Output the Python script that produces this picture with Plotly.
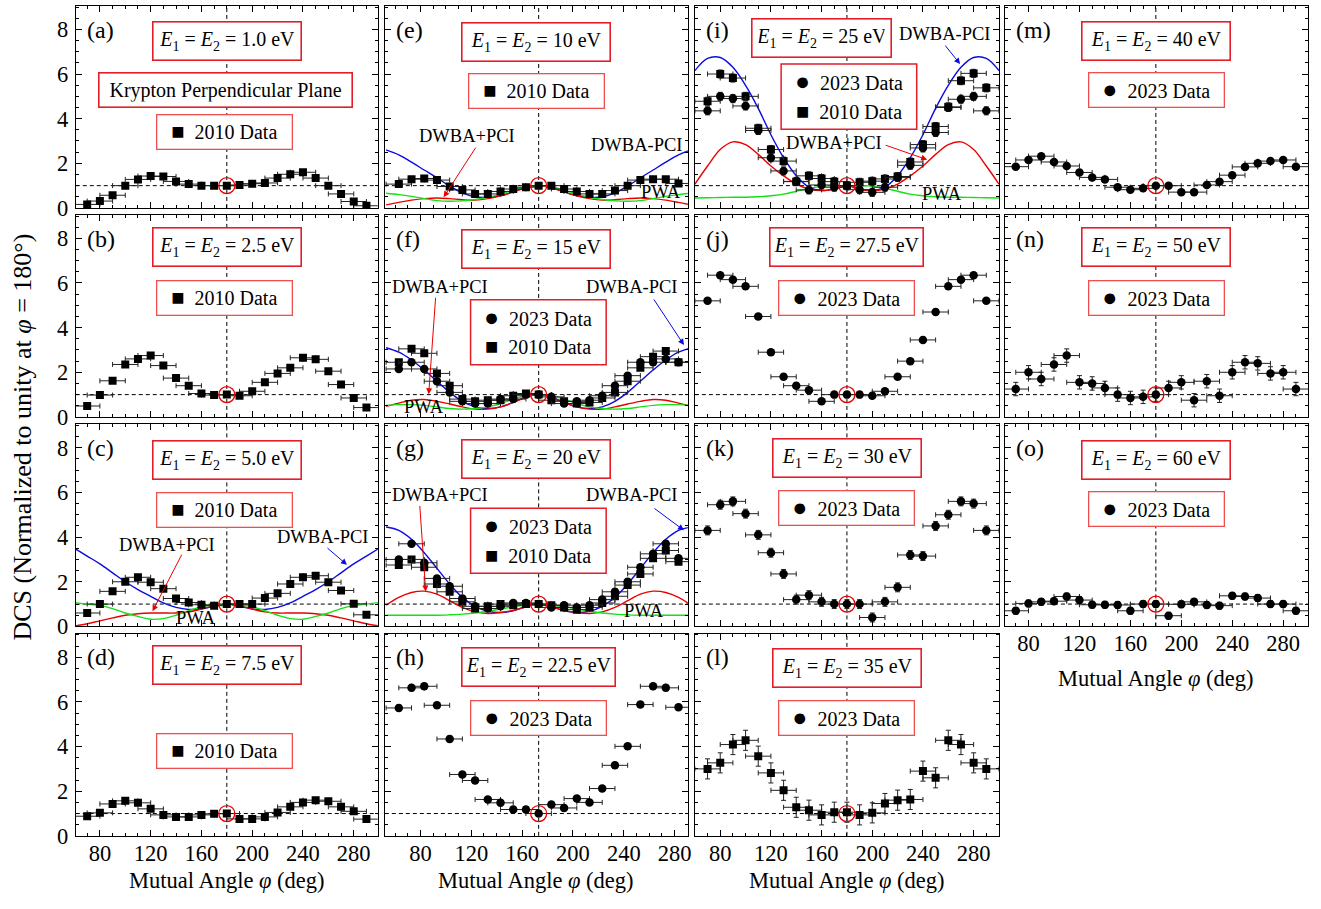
import plotly.graph_objects as go

# ---------------- data ----------------
PHI = [70, 80, 90, 100, 110, 120, 130, 140, 150, 160, 170, 180, 190, 200, 210, 220, 230, 240, 250, 260, 270, 280, 290]
PHI_B = [63, 73, 83, 93, 103, 113, 123, 133, 143, 153, 163, 173, 183, 193, 203, 213, 223, 233, 243, 253, 263, 273, 283]
TH = [60, 70, 80, 90, 100, 110, 120, 130, 140, 150, 160, 170, 180, 190, 200, 210, 220, 230, 240, 250, 260, 270, 280, 290, 300]
TH_B = [53, 63, 73, 83, 93, 103, 113, 123, 133, 143, 153, 163, 173, 183, 193, 203, 213, 223, 233, 243, 253, 263, 273, 283, 293]
XTICKS = [80, 120, 160, 200, 240, 280]
YTICKS = [0, 2, 4, 6, 8]

A_2010 = [0.16, 0.31, 0.57, 1.0, 1.28, 1.43, 1.41, 1.19, 1.07, 1.0, 1.0, 1.0, 1.03, 1.09, 1.12, 1.34, 1.51, 1.6, 1.34, 1.0, 0.63, 0.29, 0.1]
B_2010 = [0.49, 0.98, 1.62, 2.35, 2.6, 2.75, 2.3, 1.74, 1.4, 1.05, 0.98, 1.0, 0.95, 1.15, 1.55, 1.95, 2.2, 2.65, 2.58, 2.05, 1.45, 0.85, 0.42]
C_2010 = [0.6, 1.0, 1.57, 2.0, 2.2, 1.98, 1.69, 1.25, 1.07, 0.97, 0.93, 1.0, 1.0, 1.0, 1.27, 1.48, 1.9, 2.2, 2.27, 1.98, 1.61, 1.01, 0.52]
D_2010 = [0.88, 1.03, 1.43, 1.57, 1.48, 1.21, 0.94, 0.85, 0.85, 0.94, 0.99, 1.0, 0.76, 0.76, 0.85, 1.05, 1.3, 1.5, 1.6, 1.55, 1.3, 1.1, 0.75]
E_2010 = [1.07, 1.29, 1.32, 1.25, 0.96, 0.81, 0.63, 0.63, 0.74, 0.85, 0.93, 1.0, 1.0, 0.85, 0.74, 0.63, 0.63, 0.78, 1.0, 1.25, 1.29, 1.29, 1.1]
F_2010 = [2.45, 3.05, 2.85, 1.95, 1.4, 0.8, 0.7, 0.75, 0.75, 0.95, 1.05, 1.0, 0.75, 0.7, 0.6, 0.65, 0.85, 1.1, 1.6, 2.2, 2.7, 2.95, 2.45]
F_2023 = [2.15, 2.45, 2.15, 1.6, 1.1, 0.7, 0.6, 0.6, 0.8, 0.8, 1.0, 1.0, 0.9, 0.6, 0.7, 0.75, 0.95, 1.4, 1.85, 2.45, 2.45, 2.6, 2.45]
G_2010 = [2.75, 3.0, 2.65, 1.9, 1.55, 1.1, 0.8, 0.9, 1.0, 0.95, 1.0, 1.0, 0.95, 0.85, 0.75, 0.85, 1.05, 1.35, 1.85, 2.35, 3.05, 3.4, 2.9]
G_2023 = [3.0, 3.7, 2.85, 2.15, 1.8, 1.25, 0.9, 0.8, 0.9, 1.05, 1.05, 1.0, 0.85, 0.95, 0.85, 0.95, 1.2, 1.55, 2.0, 2.65, 3.25, 3.7, 3.05]
H_2023 = [5.73, 6.63, 6.7, 5.85, 4.34, 2.75, 2.48, 1.63, 1.48, 1.18, 1.18, 1.0, 1.4, 1.25, 1.67, 1.5, 2.12, 3.16, 4.01, 5.88, 6.7, 6.63, 5.76]
I_2010 = [4.78, 6.0, 5.82, 5.0, 3.57, 2.62, 2.1, 1.18, 1.44, 1.32, 1.18, 1.0, 1.15, 1.2, 1.3, 1.41, 2.06, 2.84, 3.65, 4.53, 5.7, 6.03, 5.38]
I_2023 = [4.35, 5.0, 4.9, 4.57, 3.47, 2.25, 1.66, 1.19, 0.81, 1.03, 0.93, 1.0, 0.82, 0.7, 0.93, 1.37, 1.91, 2.69, 3.38, 4.5, 4.87, 5.0, 4.35]
J_2023 = [5.2, 6.35, 6.15, 5.85, 4.5, 2.9, 1.8, 1.4, 1.2, 0.7, 1.0, 1.0, 1.0, 0.95, 1.15, 1.8, 2.5, 3.45, 4.7, 5.85, 6.15, 6.35, 5.2]
K_2023 = [4.3, 5.45, 5.6, 5.05, 4.1, 3.3, 2.35, 1.2, 1.4, 1.1, 1.0, 1.0, 1.0, 0.4, 1.1, 1.75, 3.2, 3.15, 4.5, 5.0, 5.6, 5.5, 4.3]
L_2023 = [3.0, 3.27, 4.09, 4.28, 3.57, 2.82, 2.04, 1.28, 1.15, 0.94, 1.06, 1.06, 0.94, 1.03, 1.45, 1.6, 1.63, 2.9, 2.6, 4.28, 4.09, 3.27, 3.0]
M_2023 = [1.85, 2.15, 2.32, 2.06, 1.88, 1.59, 1.37, 1.28, 0.93, 0.82, 0.88, 1.0, 1.0, 0.71, 0.71, 1.03, 1.18, 1.47, 1.84, 2.0, 2.1, 2.15, 1.85]
N_2023 = [1.25, 2.0, 1.7, 2.35, 2.75, 1.55, 1.5, 1.3, 1.0, 0.85, 0.9, 1.0, 1.3, 1.55, 0.75, 1.6, 0.95, 2.0, 2.45, 2.4, 1.95, 2.0, 1.25]
O_2023 = [0.7, 1.03, 1.1, 1.13, 1.34, 1.18, 0.97, 0.97, 0.96, 0.7, 1.0, 1.0, 0.48, 0.99, 1.1, 0.96, 0.93, 1.37, 1.34, 1.27, 1.0, 1.0, 0.7]

# theory curves (DWBA-PCI blue, DWBA+PCI red, PWA green)
C_BLUE = [3.5, 3.15, 2.8, 2.4, 2.0, 1.65, 1.35, 1.05, 0.85, 0.76, 0.78, 0.9, 1.0, 0.9, 0.78, 0.76, 0.85, 1.05, 1.35, 1.65, 2.0, 2.4, 2.8, 3.15, 3.5]
C_RED = [0.02, 0.12, 0.25, 0.38, 0.5, 0.57, 0.6, 0.6, 0.6, 0.65, 0.78, 0.93, 1.0, 0.93, 0.78, 0.65, 0.6, 0.6, 0.6, 0.57, 0.5, 0.38, 0.25, 0.12, 0.02]
C_GREEN = [1.07, 1.0, 0.93, 0.8, 0.6, 0.45, 0.32, 0.35, 0.5, 0.7, 0.88, 0.97, 1.0, 0.97, 0.88, 0.7, 0.5, 0.35, 0.32, 0.45, 0.6, 0.8, 0.93, 1.0, 1.07]
E_BLUE = [2.6, 2.38, 2.05, 1.7, 1.35, 0.98, 0.68, 0.5, 0.48, 0.55, 0.72, 0.93, 1.0, 0.93, 0.72, 0.55, 0.48, 0.5, 0.68, 0.98, 1.35, 1.7, 2.05, 2.38, 2.6]
E_RED = [0.14, 0.25, 0.35, 0.42, 0.45, 0.42, 0.37, 0.35, 0.42, 0.55, 0.72, 0.9, 1.0, 0.9, 0.72, 0.55, 0.42, 0.35, 0.37, 0.42, 0.45, 0.42, 0.35, 0.25, 0.14]
E_GREEN = [0.66, 0.6, 0.52, 0.42, 0.33, 0.3, 0.32, 0.38, 0.48, 0.62, 0.8, 0.95, 1.0, 0.95, 0.8, 0.62, 0.48, 0.38, 0.32, 0.3, 0.33, 0.42, 0.52, 0.6, 0.66]
F_BLUE = [3.1, 2.9, 2.55, 2.1, 1.6, 1.1, 0.7, 0.45, 0.38, 0.45, 0.65, 0.9, 1.0, 0.9, 0.65, 0.45, 0.38, 0.45, 0.7, 1.1, 1.6, 2.1, 2.55, 2.9, 3.1]
F_RED = [0.48, 0.62, 0.75, 0.78, 0.7, 0.58, 0.45, 0.35, 0.35, 0.45, 0.65, 0.88, 1.0, 0.88, 0.65, 0.45, 0.35, 0.35, 0.45, 0.58, 0.7, 0.78, 0.75, 0.62, 0.48]
F_GREEN = [0.52, 0.55, 0.55, 0.52, 0.45, 0.38, 0.35, 0.38, 0.45, 0.6, 0.8, 0.95, 1.0, 0.95, 0.8, 0.6, 0.45, 0.38, 0.35, 0.38, 0.45, 0.52, 0.55, 0.55, 0.52]
G_BLUE = [4.45, 4.3, 3.9, 3.3, 2.6, 1.9, 1.3, 0.9, 0.68, 0.62, 0.7, 0.88, 1.0, 0.88, 0.7, 0.62, 0.68, 0.9, 1.3, 1.9, 2.6, 3.3, 3.9, 4.3, 4.45]
G_RED = [0.95, 1.3, 1.52, 1.58, 1.45, 1.15, 0.85, 0.65, 0.58, 0.62, 0.72, 0.88, 1.0, 0.88, 0.72, 0.62, 0.58, 0.65, 0.85, 1.15, 1.45, 1.58, 1.52, 1.3, 0.95]
G_GREEN = [0.5, 0.5, 0.5, 0.5, 0.5, 0.52, 0.55, 0.6, 0.68, 0.78, 0.88, 0.96, 1.0, 0.96, 0.88, 0.78, 0.68, 0.6, 0.55, 0.52, 0.5, 0.5, 0.5, 0.5, 0.5]
I_BLUE = [6.15, 6.7, 6.74, 6.3, 5.49, 4.46, 3.28, 2.25, 1.44, 0.93, 0.78, 0.85, 1.0, 0.85, 0.78, 0.93, 1.44, 2.25, 3.28, 4.46, 5.49, 6.3, 6.74, 6.7, 6.15]
I_RED = [1.07, 1.88, 2.62, 2.96, 2.84, 2.4, 1.88, 1.44, 1.07, 0.85, 0.78, 0.85, 1.0, 0.85, 0.78, 0.85, 1.07, 1.44, 1.88, 2.4, 2.84, 2.96, 2.62, 1.88, 1.07]
I_GREEN = [0.45, 0.46, 0.47, 0.48, 0.48, 0.5, 0.55, 0.62, 0.75, 0.88, 0.97, 1.0, 1.0, 1.0, 0.97, 0.88, 0.75, 0.62, 0.55, 0.5, 0.48, 0.48, 0.47, 0.46, 0.45]

ENERGIES = ['1.0', '2.5', '5.0', '7.5', '10', '15', '20', '22.5', '25', '27.5', '30', '35', '40', '50', '60']
LABELS = ['a', 'b', 'c', 'd', 'e', 'f', 'g', 'h', 'i', 'j', 'k', 'l', 'm', 'n', 'o']
YERR = [0.08, 0.1, 0.08, 0.08, 0.08, 0.12, 0.12, 0.13, 0.18, 0.12, 0.2, 0.45, 0.08, 0.3, 0.15]
XERR = 10

# ---------------- layout geometry ----------------
W, H = 1321, 909
FONT = 'Liberation Serif'
COL_PX = [(76, 379), (386, 690), (697, 1002), (1008, 1312)]
ROW_PX = [(6, 211), (218, 423), (430.5, 635.5), (643, 848)]
XR = [[61, 299], [52, 290.4], [60, 300], [61.5, 299.5]]
CENTER = [180, 173, 180, 180]
YR = [0.0, 9.05]

BLUE = 'rgb(10,10,225)'
RED = 'rgb(235,0,0)'
GREEN = 'rgb(20,225,20)'
BOXRED = 'rgb(228,30,40)'
BOXRED2 = 'rgb(238,80,80)'
SQ_GLYPH = '<span style="font-size:22px">■</span>'
CI_GLYPH = '<span style="font-size:25px">●</span>'

PANELS = [
    dict(col=0, row=0, ser=[(A_2010, 'square')], th=None, leg='sq', eb=(0, 36), lb=(-2, 128)),
    dict(col=0, row=1, ser=[(B_2010, 'square')], th=None, leg='sq', eb=(0, 33), lb=(-2, 84)),
    dict(col=0, row=2, ser=[(C_2010, 'square')], th=(C_BLUE, C_RED, C_GREEN), leg='sq', eb=(0, 36), lb=(-2, 87)),
    dict(col=0, row=3, ser=[(D_2010, 'square')], th=None, leg='sq', eb=(0, 32), lb=(-2, 119)),
    dict(col=1, row=0, ser=[(E_2010, 'square')], th=(E_BLUE, E_RED, E_GREEN), leg='sq', eb=(0, 37), lb=(0, 86)),
    dict(col=1, row=1, ser=[(F_2010, 'square'), (F_2023, 'circle')], th=(F_BLUE, F_RED, F_GREEN), leg='both', eb=(0, 35), lb=(2, 119)),
    dict(col=1, row=2, ser=[(G_2010, 'square'), (G_2023, 'circle')], th=(G_BLUE, G_RED, G_GREEN), leg='both', eb=(0, 35), lb=(2, 118)),
    dict(col=1, row=3, ser=[(H_2023, 'circle')], th=None, leg='ci', eb=(2, 34), lb=(2, 85)),
    dict(col=2, row=0, ser=[(I_2010, 'square'), (I_2023, 'circle')], th=(I_BLUE, I_RED, I_GREEN), leg='both', eb=(-26, 33), lb=(2, 92)),
    dict(col=2, row=1, ser=[(J_2023, 'circle')], th=None, leg='ci', eb=(0, 33), lb=(0, 84)),
    dict(col=2, row=2, ser=[(K_2023, 'circle')], th=None, leg='ci', eb=(0, 34), lb=(0, 85)),
    dict(col=2, row=3, ser=[(L_2023, 'square')], th=None, leg='ci', eb=(0, 35), lb=(0, 85)),
    dict(col=3, row=0, ser=[(M_2023, 'circle')], th=None, leg='ci', eb=(0, 36), lb=(0, 85)),
    dict(col=3, row=1, ser=[(N_2023, 'circle')], th=None, leg='ci', eb=(0, 33), lb=(0, 84)),
    dict(col=3, row=2, ser=[(O_2023, 'circle')], th=None, leg='ci', eb=(0, 36), lb=(0, 86)),
]

TH_LABELS = {
    'c': dict(plus=(168, 553), minus=(323, 545), pwa=(197, 627),
              red_arrow=((183, 562), (153, 620)), blue_arrow=((327, 555), (348, 573))),
    'e': dict(plus=(468, 138), minus=(638, 147), pwa=(663, 195),
              red_arrow=((478, 149), (445, 200)), blue_arrow=None),
    'f': dict(plus=(441, 291), minus=(633, 291), pwa=(425, 413),
              red_arrow=((437, 302), (430, 400)), blue_arrow=((655, 303), (686, 350))),
    'g': dict(plus=(441, 502), minus=(633, 502), pwa=(646, 620),
              red_arrow=((421, 513), (427, 600)), blue_arrow=((655, 515), (686, 538))),
    'i': dict(plus=(837, 145), minus=(947, 35), pwa=(945, 197),
              red_arrow=((887, 147), (930, 162)), blue_arrow=((947, 45), (963, 65))),
}


def PX(x):
    return x / W


def PY(y):
    return 1 - y / H


fig = go.Figure()
layout = dict(width=W, height=H, margin=dict(l=0, r=0, t=0, b=0, pad=0),
              paper_bgcolor='white', plot_bgcolor='white', showlegend=False,
              font=dict(family=FONT, color='black'))
annotations = []
shapes = []

for k, p in enumerate(PANELS, start=1):
    c, r = p['col'], p['row']
    sfx = '' if k == 1 else str(k)
    xref, yref = 'x' + sfx, 'y' + sfx
    x0, x1 = COL_PX[c]
    y0, y1 = ROW_PX[r]
    show_xl = (r == 3) or (c == 3 and r == 2)
    show_yl = (c == 0)
    layout['xaxis' + sfx] = dict(
        domain=[PX(x0), PX(x1)], range=XR[c], anchor=yref, tickvals=XTICKS,
        ticks='inside', ticklen=6, tickwidth=1, tickcolor='black',
        minor=dict(dtick=10, tick0=0, ticks='inside', ticklen=3, tickcolor='black', tickwidth=1),
        showline=True, linecolor='black', linewidth=1, mirror='allticks',
        showgrid=False, zeroline=False, showticklabels=show_xl, ticklabelstandoff=-3,
        tickfont=dict(family=FONT, size=22.5, color='black'))
    layout['yaxis' + sfx] = dict(
        domain=[PY(y1), PY(y0)], range=YR, anchor=xref, tickvals=YTICKS,
        ticks='inside', ticklen=6, tickwidth=1, tickcolor='black',
        minor=dict(dtick=0.5, tick0=0, ticks='inside', ticklen=3, tickcolor='black', tickwidth=1),
        showline=True, linecolor='black', linewidth=1, mirror='allticks',
        showgrid=False, zeroline=False, showticklabels=show_yl, ticklabelstandoff=2,
        tickfont=dict(family=FONT, size=22.5, color='black'))

    xd = PHI_B if c == 1 else PHI
    xt = TH_B if c == 1 else TH
    cen = CENTER[c]

    shapes.append(dict(type='line', xref=xref, yref=yref + ' domain', x0=cen, x1=cen, y0=0, y1=1,
                       line=dict(color='black', width=1, dash='4px,3px'), layer='below'))
    shapes.append(dict(type='line', xref=xref + ' domain', yref=yref, x0=0, x1=1, y0=1, y1=1,
                       line=dict(color='black', width=1, dash='4px,3px'), layer='below'))

    if p['th'] is not None:
        for vals, col in zip(p['th'], (BLUE, RED, GREEN)):
            fig.add_trace(go.Scatter(x=xt, y=vals, mode='lines', xaxis=xref, yaxis=yref,
                                     line=dict(color=col, width=1.4, shape='spline', smoothing=1.0),
                                     hoverinfo='skip'))

    for vals, sym in p['ser']:
        fig.add_trace(go.Scatter(
            x=xd, y=vals, mode='markers', xaxis=xref, yaxis=yref,
            marker=dict(symbol=sym, size=8.5 if sym == 'circle' else 8, color='black'),
            error_x=dict(type='constant', value=XERR, color='#222', thickness=1, width=2.5),
            error_y=dict(type='constant', value=YERR[k - 1], color='#222', thickness=1, width=2.5)))

    fig.add_trace(go.Scatter(x=[cen], y=[1.0], mode='markers', xaxis=xref, yaxis=yref,
                             marker=dict(symbol='circle-open', size=16, color=RED, line=dict(width=1.3, color=RED)),
                             hoverinfo='skip'))

    annotations.append(dict(text='(' + LABELS[k - 1] + ')', xref='paper', yref='paper',
                            x=PX(x0 + 9), y=PY(y0 + 24), xanchor='left', yanchor='middle',
                            showarrow=False, font=dict(family=FONT, size=24, color='black')))
    pc = (x0 + x1) / 2
    en = ENERGIES[k - 1]
    if LABELS[k - 1] == 'i':
        ebw, ebh, ebp = 126, 25, 6
    elif len(en) >= 4:
        ebw, ebh, ebp = 146, 31, 3
    else:
        ebw, ebh, ebp = 135, 25, 6
    annotations.append(dict(text='<i>E</i><sub>1</sub> = <i>E</i><sub>2</sub> = ' + en + ' eV',
                            xref='paper', yref='paper', x=PX(pc + p['eb'][0]), y=PY(y0 + p['eb'][1]),
                            xanchor='center', yanchor='middle', showarrow=False,
                            width=ebw, height=ebh, borderpad=ebp, bordercolor=BOXRED, borderwidth=1.6,
                            bgcolor='white', font=dict(family=FONT, size=20, color='black')))
    lx, ly = pc + p['lb'][0], y0 + p['lb'][1]
    if p['leg'] in ('sq', 'ci'):
        glyph = SQ_GLYPH if p['leg'] == 'sq' else CI_GLYPH
        annotations.append(dict(text=glyph + '  ' + ('2010' if p['leg'] == 'sq' else '2023') + ' Data',
                                xref='paper', yref='paper', x=PX(lx), y=PY(ly),
                                xanchor='center', yanchor='middle', showarrow=False,
                                width=124, height=23, borderpad=5, bordercolor=BOXRED2, borderwidth=1.3,
                                bgcolor='white', font=dict(family=FONT, size=20, color='black')))
    else:
        shapes.append(dict(type='rect', xref='paper', yref='paper',
                           x0=PX(lx - 68), x1=PX(lx + 68), y0=PY(ly + 33), y1=PY(ly - 33),
                           line=dict(color=BOXRED, width=1.5), fillcolor='white', layer='above'))
        for txt, dy in ((CI_GLYPH + '  2023 Data', -15), (SQ_GLYPH + '  2010 Data', 15)):
            annotations.append(dict(text=txt, xref='paper', yref='paper', x=PX(lx), y=PY(ly + dy),
                                    xanchor='center', yanchor='middle', showarrow=False,
                                    font=dict(family=FONT, size=20, color='black')))

    tl = TH_LABELS.get(LABELS[k - 1])
    if tl:
        for key, txt in (('plus', 'DWBA+PCI'), ('minus', 'DWBA-PCI'), ('pwa', 'PWA')):
            tx, ty = tl[key]
            annotations.append(dict(text=txt, xref='paper', yref='paper', x=PX(tx), y=PY(ty),
                                    xanchor='center', yanchor='middle', showarrow=False,
                                    font=dict(family=FONT, size=18.5, color='black')))
        for key, col in (('red_arrow', RED), ('blue_arrow', BLUE)):
            a = tl[key]
            if a:
                (tx, ty), (hx, hy) = a
                annotations.append(dict(text='', xref='paper', yref='paper', x=PX(hx), y=PY(hy),
                                        ax=tx - hx, ay=ty - hy, showarrow=True, arrowhead=2,
                                        arrowsize=1.2, arrowwidth=1, arrowcolor=col))

annotations.append(dict(text='Krypton Perpendicular Plane', xref='paper', yref='paper',
                        x=PX(226), y=PY(91), xanchor='center', yanchor='middle', showarrow=False,
                        width=242, height=23, borderpad=5, bordercolor=BOXRED, borderwidth=1.6,
                        bgcolor='white', font=dict(family=FONT, size=20, color='black')))

for c, ypx in ((0, 893), (1, 893), (2, 893), (3, 688)):
    x0, x1 = COL_PX[c]
    annotations.append(dict(text='Mutual Angle <i>φ</i> (deg)', xref='paper', yref='paper',
                            x=PX((x0 + x1) / 2), y=PY(ypx), xanchor='center', yanchor='middle',
                            showarrow=False, font=dict(family=FONT, size=22.5, color='black')))
annotations.append(dict(text='DCS (Normalized to unity at <i>φ</i> = 180°)', xref='paper', yref='paper',
                        x=PX(23), y=PY(443), xanchor='center', yanchor='middle', textangle=-90,
                        showarrow=False, font=dict(family=FONT, size=26, color='black')))

layout['annotations'] = annotations
layout['shapes'] = shapes
fig.update_layout(**layout)
fig.write_html('out.html', config={'displayModeBar': False},
               post_script="document.body.style.margin='0px';document.body.style.overflow='hidden';")
